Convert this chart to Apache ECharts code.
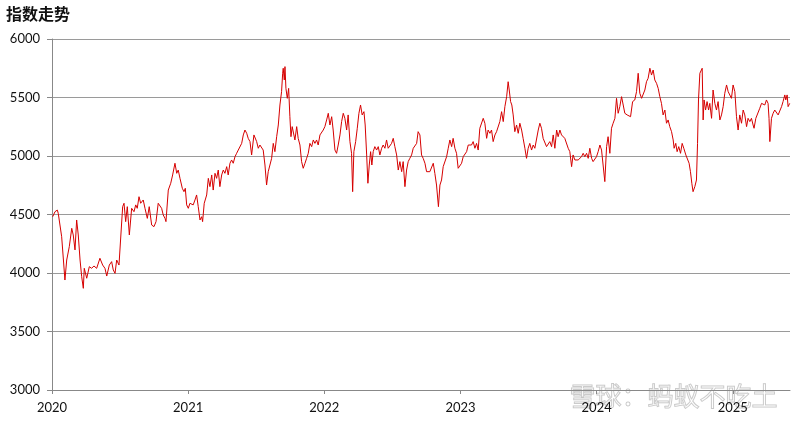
<!DOCTYPE html>
<html><head><meta charset="utf-8">
<script src="https://cdn.jsdelivr.net/npm/echarts@6/dist/echarts.min.js"></script>
<style>html,body{margin:0;padding:0;background:#fff}#c{width:800px;height:422px}</style>
</head><body><div id="c"></div>
<script>
// years elapsed since 2020-01-01
const t = [0.005,0.022,0.039,0.046,0.059,0.071,0.095,0.108,0.127,0.145,0.156,0.169,0.181,0.193,0.206,0.218,0.230,0.237,0.255,0.274,0.291,0.308,0.328,0.352,0.372,0.389,0.402,0.421,0.438,0.450,0.463,0.475,0.492,0.504,0.519,0.529,0.541,0.553,0.568,0.585,0.602,0.615,0.626,0.639,0.651,0.670,0.683,0.700,0.714,0.732,0.749,0.764,0.780,0.793,0.805,0.817,0.830,0.837,0.854,0.872,0.886,0.903,0.916,0.927,0.940,0.957,0.969,0.979,0.989,1.001,1.013,1.026,1.037,1.050,1.062,1.074,1.087,1.099,1.106,1.118,1.136,1.148,1.160,1.173,1.184,1.197,1.209,1.221,1.233,1.246,1.258,1.270,1.283,1.294,1.307,1.319,1.331,1.344,1.356,1.368,1.380,
1.393,1.405,1.417,1.430,1.441,1.454,1.466,1.483,1.503,1.515,1.527,1.540,1.551,1.564,1.576,1.588,1.601,1.613,1.625,1.637,1.650,1.662,1.674,1.686,1.694,1.698,1.706,1.711,1.718,1.728,1.738,1.747,1.755,1.764,1.777,1.784,1.797,1.808,1.821,1.833,1.845,1.858,1.870,1.882,1.894,1.907,1.919,1.931,1.943,1.955,1.968,1.980,1.992,
2.004,2.017,2.029,2.041,2.054,2.065,2.078,2.090,2.102,2.115,2.127,2.139,2.151,2.164,2.175,2.188,2.200,2.208,2.217,2.230,2.242,2.254,2.266,2.278,2.291,2.300,2.311,2.320,2.330,2.340,2.349,2.359,2.371,2.384,2.396,2.408,2.421,2.432,2.445,2.457,2.469,2.482,2.494,2.506,2.518,2.531,2.543,2.555,2.568,2.579,2.592,2.604,2.616,2.628,2.641,2.653,2.665,2.678,2.689,2.702,2.714,2.726,2.739,2.751,2.763,2.775,2.788,2.800,2.812,2.824,2.838,2.849,2.861,2.873,2.885,2.898,2.910,2.922,2.935,2.946,2.959,2.971,2.983,2.996,
3.008,3.020,3.032,3.045,3.057,3.069,3.081,3.093,3.106,3.118,3.130,3.142,3.155,3.167,3.179,3.192,3.203,3.216,3.228,3.240,3.253,3.265,3.277,3.289,3.302,3.314,3.326,3.339,3.350,3.358,3.368,3.377,3.387,3.399,3.412,3.424,3.436,3.449,3.460,3.473,3.485,3.497,3.509,3.522,3.534,3.546,3.559,3.571,3.583,3.595,3.607,3.620,3.632,3.644,3.656,3.669,3.681,3.693,3.706,3.717,3.730,3.742,3.754,3.766,3.779,3.791,3.803,3.816,3.827,3.840,3.852,3.864,3.877,3.889,3.901,3.913,3.926,3.938,3.950,3.963,3.974,3.987,3.999,
4.011,4.024,4.036,4.048,4.060,4.073,4.084,4.097,4.109,4.121,4.134,4.146,4.158,4.170,4.183,4.195,4.207,4.224,4.236,4.249,4.264,4.280,4.293,4.305,4.317,4.330,4.341,4.354,4.366,4.378,4.391,4.403,4.415,4.427,4.440,4.452,4.464,4.476,4.488,4.501,4.513,4.525,4.537,4.550,4.562,4.569,4.581,4.591,4.603,4.616,4.628,4.640,4.655,4.667,4.679,4.689,4.699,4.708,4.721,4.733,4.741,4.748,4.758,4.775,4.782,4.789,4.800,4.811,4.822,4.831,4.844,4.855,4.868,4.880,4.892,4.905,4.917,4.929,4.941,4.954,4.966,4.978,4.990,
5.002,5.015,5.027,5.039,5.051,5.064,5.076,5.088,5.101,5.112,5.125,5.137,5.149,5.156,5.169,5.181,5.198,5.211,5.223,5.235,5.247,5.259,5.266,5.272,5.284,5.296,5.308,5.321,5.333,5.345,5.358,5.369,5.382,5.389,5.399,5.406,5.418];
const indexValues = [4481,4524,4538,4510,4510,4310,3940,4111,4225,4382,4325,4197,4453,4325,4111,3969,3869,4040,3955,4054,4040,4060,4040,4126,4068,4040,3974,4068,4097,4026,3997,4111,4068,4068,4567,4596,4439,4567,4325,4553,4524,4582,4553,4652,4596,4624,4553,4467,4567,4410,4396,4439,4596,4610,4553,4496,4467,4439,4709,4767,4838,4938,4852,4880,4809,4724,4695,4724,4582,4553,4596,4610,4582,4624,4667,4567,4453,4481,4439,4596,4667,4809,4738,4838,4709,4852,4809,4880,4738,4838,4880,4852,4909,4838,4938,4966,4938,4994,5023,5051,5051,
5108,5180,5222,5194,5151,5123,5009,5180,5123,5066,5094,5108,5051,4923,4752,4866,4880,4980,5108,5037,5165,5265,5436,5550,5707,5750,5650,5764,5578,5493,5578,5336,5165,5251,5251,5137,5251,5151,5094,4952,4895,4938,4980,5023,5108,5080,5137,5108,5137,5094,5180,5165,5222,
5251,5308,5365,5265,5336,5222,5051,5023,5094,5180,5294,5365,5322,5222,5351,5123,5023,4695,5037,5123,5237,5365,5436,5351,5379,5265,5009,4767,4923,5037,4923,5037,5080,5051,5080,5009,5066,5094,5066,5137,5066,5080,5108,5151,5080,5009,4880,4952,4866,4952,4738,4880,4952,4980,5009,5066,5080,5108,5208,5180,5009,4980,4938,4866,4852,4866,4880,4938,4850,4752,4567,4752,4795,4909,4895,4994,5066,5137,5080,5151,5066,5023,4895,4880,
4938,4994,4980,5037,5094,5080,5094,5123,5066,5108,5051,5237,5222,5322,5280,5151,5222,5194,5222,5123,5180,5208,5208,5294,5379,5294,5422,5507,5635,5564,5465,5436,5351,5208,5265,5194,5280,5222,5151,5066,4980,5066,5108,5051,5094,5066,5051,5222,5280,5237,5151,5137,5080,5066,5123,5080,5180,5066,5222,5165,5222,5180,5165,5151,5137,5066,5037,4909,5009,4966,4980,4966,4980,4994,5023,4994,5023,4980,5066,4980,4952,4938,4994,
5037,5094,5051,5066,4781,5080,5165,5023,5237,5280,5322,5493,5365,5422,5507,5522,5365,5351,5365,5336,5465,5479,5550,5707,5536,5493,5507,5564,5635,5664,5750,5692,5735,5650,5621,5578,5507,5450,5351,5393,5280,5308,5251,5208,5137,5066,5108,5037,5080,5023,5108,5066,5009,4994,4938,4866,4767,4695,4738,4795,5108,5479,5707,5750,5308,5479,5393,5465,5393,5450,5322,5564,5450,5393,5465,5308,5351,5422,5536,5607,5550,5564,5493,
5607,5550,5336,5222,5351,5280,5393,5351,5251,5322,5294,5322,5265,5237,5322,5336,5408,5450,5465,5436,5479,5450,5322,5123,5322,5365,5393,5393,5351,5365,5422,5465,5522,5479,5522,5422,5450];
const yearLabels = ['2020','2021','2022','2023','2024','2025'];
const startYear = 2020;

const data = t.map((v, i) => [startYear + v, indexValues[i]]);
const chart = echarts.init(document.getElementById('c'));
chart.setOption({
  animation: false,
  backgroundColor: '#fff',
  title: {
    text: '指数走势', left: 1, top: 1,
    textStyle: { fontFamily: 'Noto Sans CJK SC', fontSize: 16, fontWeight: 'bold', color: '#111' }
  },
  grid: { left: 52, right: 10, top: 39, bottom: 32 },
  xAxis: {
    type: 'value', min: 2020, max: 2025.42, interval: 1,
    axisLine: { show: true, lineStyle: { color: '#888', width: 1 } },
    axisTick: { show: true, length: 4, lineStyle: { color: '#888' } },
    splitLine: { show: false },
    axisLabel: {
      margin: 11, color: '#111', fontSize: 13, fontFamily: 'Lato',
      formatter: v => { const k = Math.round(v) - startYear; return (Math.abs(v - Math.round(v)) < 1e-6 && yearLabels[k]) ? yearLabels[k] : ''; },
      showMaxLabel: false
    }
  },
  yAxis: {
    type: 'value', min: 3000, max: 6000, interval: 500,
    axisLine: { show: true, lineStyle: { color: '#888', width: 1 } },
    axisTick: { show: true, length: 5, lineStyle: { color: '#888' } },
    splitLine: { show: true, lineStyle: { color: '#9a9a9a', width: 1.2 } },
    axisLabel: { margin: 12, color: '#111', fontSize: 13, fontFamily: 'Lato', formatter: v => String(v) }
  },
  series: [{
    type: 'line', data: data, showSymbol: false, symbol: 'none',
    lineStyle: { color: '#d60000', width: 1 }
  }],
  graphic: [{
    type: 'text', right: 22, bottom: 12, silent: true,
    style: { text: '雪球：蚂蚁不吃土', fontSize: 26, fontFamily: 'Noto Sans CJK SC',
      fill: 'rgba(255,255,255,0.2)', stroke: 'rgba(150,150,150,0.55)', lineWidth: 1 }
  }]
});
</script></body></html>
